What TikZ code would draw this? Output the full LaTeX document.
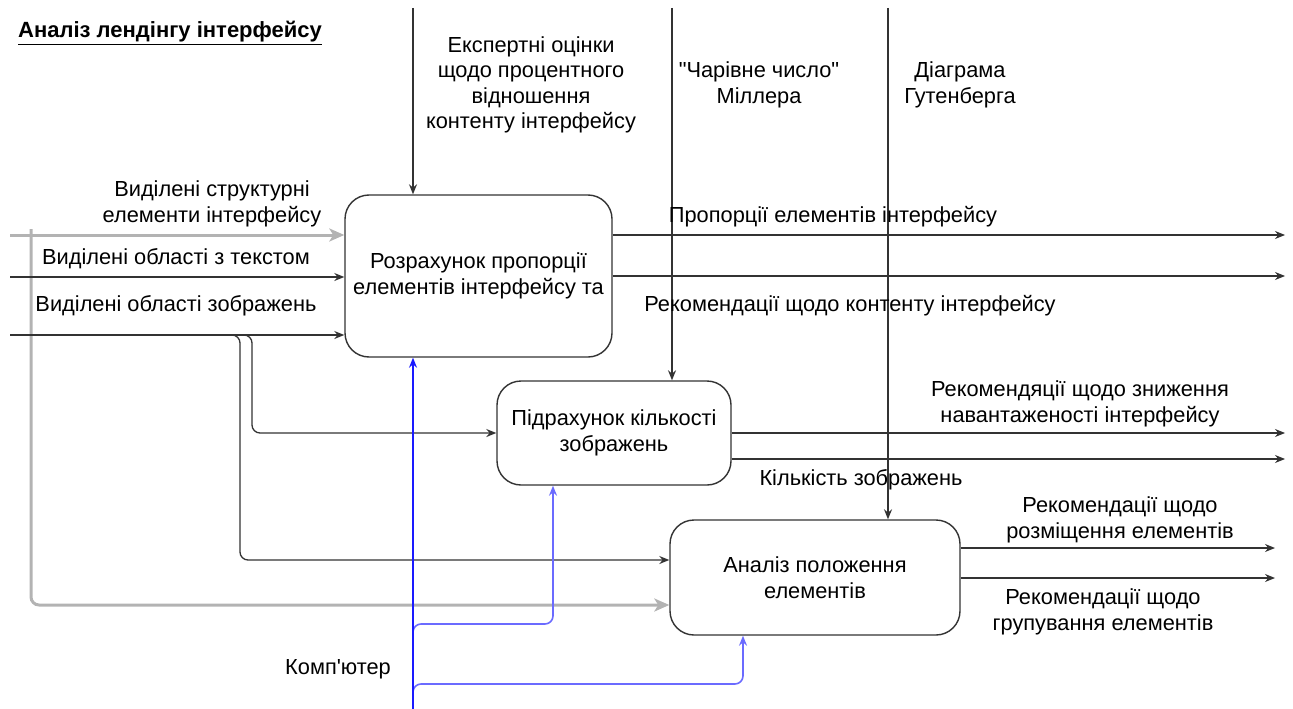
\documentclass[tikz,border=0pt]{standalone}
\usepackage{fontspec}
\setmainfont{Liberation Sans}[Ligatures=TeXOff]
\usetikzlibrary{arrows.meta}
\definecolor{lgray}{HTML}{B3B3B3}
\definecolor{edge}{HTML}{333333}
\definecolor{mblue}{HTML}{1A1AFF}
\definecolor{lblue}{HTML}{6B6BFF}
\begin{document}
\begin{tikzpicture}[x=1pt,y=-1pt,
  lbl/.style={font=\fontsize{21.8}{25.5}\selectfont, align=center, inner sep=0pt},
  box/.style={draw=edge, line width=1.4pt, rounded corners=24pt, align=center,
     font=\fontsize{21.8}{25.5}\selectfont, inner sep=0pt},
  arr/.style={draw=edge, line width=1.3pt, -{Stealth[length=10pt,width=8pt]}},
  garr/.style={draw=lgray, line width=3pt, -{Stealth[length=15pt,width=13pt,inset=4pt]}},
  barr/.style={draw=mblue, line width=1.3pt, -{Stealth[length=10pt,width=8pt]}},
  lbarr/.style={draw=lblue, line width=1.6pt, rounded corners=8pt, -{Stealth[length=10pt,width=8pt]}},
  rc/.style={rounded corners=8pt}]
\useasboundingbox (0,0) rectangle (1293,709);

% title
\node[anchor=west, font=\bfseries\fontsize{22}{24}\selectfont, inner sep=0pt] (title) at (18,33) {\underline{Аналіз лендінгу інтерфейсу}};

% boxes
\node[box, minimum width=267pt, minimum height=162pt] (A) at (478.5,276) {Розрахунок пропорції\\елементів інтерфейсу та};
\node[box, minimum width=234pt, minimum height=104pt] (B) at (614,433) {Підрахунок кількості\\зображень};
\node[box, minimum width=290pt, minimum height=115pt] (C) at (815,577.5) {Аналіз положення\\елементів};

% input coordinates
\coordinate (inS) at (10,235);
\coordinate (inT) at (10,277);
\coordinate (inI) at (10,335);
\coordinate (gS) at (31,229);

% inputs
\draw[garr] (inS) -- (A.west |- inS);
\draw[garr, rc] (gS) -- (31,605) -- (C.west |- 0,605);
\draw[arr] (inT) -- (A.west |- inT);
\draw[arr] (inI) -- (A.west |- inI);
\draw[arr, rc] (inI) -| (252,433) -- (B.west |- 0,433);
\draw[arr, rc] (inI) -| (240,560) -- (C.west |- 0,560);

% controls
\coordinate (c1) at (413,8);
\coordinate (c2) at (672,8);
\coordinate (c3) at (888,8);
\draw[arr] (c1) -- (c1 |- A.north);
\draw[arr] (c2) -- (c2 |- B.north);
\draw[arr] (c3) -- (c3 |- C.north);

% mechanism
\coordinate (mech) at (413,709);
\draw[lbarr] (413,650) |- (553,624) -- (B.south -| 553,0);
\draw[lbarr] (413,705) |- (743,684) -- (C.south -| 743,0);
\draw[barr] (mech) -- (mech |- A.south);

% outputs
\coordinate (o1) at (1285,235);
\coordinate (o2) at (1285,276);
\coordinate (o3) at (1285,433);
\coordinate (o4) at (1285,459);
\coordinate (o5) at (1275,548);
\coordinate (o6) at (1275,578);
\draw[arr] (A.east |- o1) -- (o1);
\draw[arr] (A.east |- o2) -- (o2);
\draw[arr] (B.east |- o3) -- (o3);
\draw[arr] (B.east |- o4) -- (o4);
\draw[arr] (C.east |- o5) -- (o5);
\draw[arr] (C.east |- o6) -- (o6);

% labels
\node[lbl] (lS) at (212,204) {Виділені структурні\\елементи інтерфейсу};
\node[lbl] (lT) at (176,259) {Виділені області з текстом};
\node[lbl] (lI) at (176,306) {Виділені області зображень};
\node[lbl] (lE) at (531,85) {Експертні оцінки\\щодо процентного\\відношення\\контенту інтерфейсу};
\node[lbl] (lM) at (759,85) {"Чарівне число"\\Міллера};
\node[lbl] (lG) at (960,85) {Діаграма\\Гутенберга};
\node[lbl] (lP) at (833,217) {Пропорції елементів інтерфейсу};
\node[lbl] (lR) at (850,306) {Рекомендації щодо контенту інтерфейсу};
\node[lbl] (lN) at (1080,404) {Рекомендяції щодо зниження\\навантаженості інтерфейсу};
\node[lbl] (lK) at (861,480) {Кількість зображень};
\node[lbl] (lRo) at (1120,520) {Рекомендації щодо\\розміщення елементів};
\node[lbl] (lGr) at (1103,612) {Рекомендації щодо\\групування елементів};
\node[lbl] (lC) at (338,669) {Комп'ютер};
\end{tikzpicture}
\end{document}
